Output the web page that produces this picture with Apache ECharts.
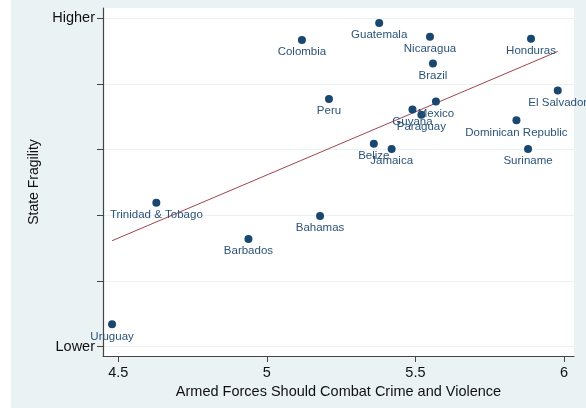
<!DOCTYPE html>
<html>
<head>
<meta charset="utf-8">
<script src="https://cdn.jsdelivr.net/npm/echarts@6/dist/echarts.min.js"></script>
<style>
  html, body { margin: 0; padding: 0; background: #ffffff; }
  #chart { position: absolute; left: 11px; top: 0; width: 575px; height: 408px; }
</style>
</head>
<body>
<div id="chart"></div>
<script>
// Countries, support for armed forces fighting crime (x) and state fragility (y)
const countries = ['Guatemala', 'Colombia', 'Nicaragua', 'Honduras', 'Brazil', 'El Salvador',
  'Peru', 'Mexico', 'Guyana', 'Paraguay', 'Dominican Republic', 'Suriname', 'Belize',
  'Jamaica', 'Trinidad & Tobago', 'Bahamas', 'Barbados', 'Uruguay'];
const armedForces = [5.378, 5.118, 5.549, 5.889, 5.559, 5.979,
  5.209, 5.569, 5.490, 5.520, 5.840, 5.879, 5.360,
  5.420, 4.628, 5.179, 4.938, 4.479];
const fragility = [4.93, 4.67, 4.72, 4.69, 4.31, 3.90,
  3.77, 3.735, 3.61, 3.53, 3.446, 3.01, 3.09,
  3.01, 2.19, 1.99, 1.64, 0.34];

// Fitted line end points
const fitX = [4.479, 5.979];
const fitY = [1.613, 4.496];

// Axis ticks
const xTicks = [4.5, 5, 5.5, 6];
const yTicks = [0, 1, 2, 3, 4, 5];
const yTickLabels = { 0: 'Lower', 5: 'Higher' };

const FONT = '"Liberation Sans", Arial, Helvetica, sans-serif';

const chart = echarts.init(document.getElementById('chart'), null, { renderer: 'canvas' });

chart.setOption({
  backgroundColor: '#eaf2f3',
  animation: false,
  grid: { left: 92, right: 12, top: 8, bottom: 52, show: true, backgroundColor: '#ffffff', borderWidth: 0 },
  xAxis: {
    type: 'value',
    min: 4.4485,
    max: 6.0337,
    name: 'Armed Forces Should Combat Crime and Violence',
    nameLocation: 'middle',
    nameGap: 22,
    nameTextStyle: { fontFamily: FONT, fontSize: 14.5, color: '#111' },
    axisLine: { show: true, onZero: false, lineStyle: { color: '#444', width: 1.2 } },
    axisTick: { show: true, length: 6, customValues: xTicks, lineStyle: { color: '#444' } },
    axisLabel: { customValues: xTicks, margin: 9, fontFamily: FONT, fontSize: 14.5, color: '#111',
      formatter: v => String(v) },
    splitLine: { show: false }
  },
  yAxis: {
    type: 'value',
    min: -0.142,
    max: 5.157,
    name: 'State Fragility',
    nameLocation: 'middle',
    nameGap: 60,
    nameTextStyle: { fontFamily: FONT, fontSize: 14, color: '#111' },
    axisLine: { show: true, onZero: false, lineStyle: { color: '#444', width: 1.2 } },
    axisTick: { show: true, length: 6, customValues: yTicks, lineStyle: { color: '#444' } },
    axisLabel: { customValues: [0, 5], margin: 8, fontFamily: FONT, fontSize: 14.5, color: '#111',
      formatter: v => yTickLabels[v] || '' },
    splitLine: { show: true, lineStyle: { color: '#eaf2f3', width: 1 } }
  },
  series: [
    {
      type: 'line',
      data: fitX.map((x, i) => [x, fitY[i]]),
      showSymbol: false,
      lineStyle: { color: '#a0454b', width: 1 },
      z: 1
    },
    {
      type: 'scatter',
      data: countries.map((c, i) => ({ name: c, value: [armedForces[i], fragility[i]] })),
      symbol: 'circle',
      symbolSize: 8,
      itemStyle: { color: '#1a476f', opacity: 1 },
      label: {
        show: true,
        position: 'bottom',
        distance: 2,
        formatter: p => p.name,
        fontFamily: FONT,
        fontSize: 11.5,
        color: '#2c5379'
      },
      z: 2
    }
  ]
});
</script>
</body>
</html>
